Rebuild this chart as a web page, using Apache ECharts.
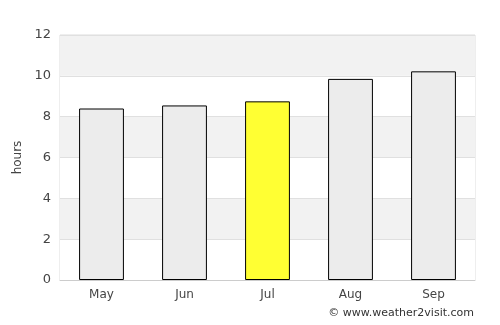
<!DOCTYPE html>
<html>
<head>
<meta charset="utf-8">
<script src="https://cdn.jsdelivr.net/npm/echarts@6/dist/echarts.min.js"></script>
<style>
  html, body { margin: 0; padding: 0; background: #fff; }
  #chart { width: 500px; height: 325px; }
</style>
</head>
<body>
<div id="chart"></div>
<script>
const months = ['May', 'Jun', 'Jul', 'Aug', 'Sep']
const hours = [8.4, 8.55, 8.75, 9.85, 10.22]
const highlight = 'Jul'

const chart = echarts.init(document.getElementById('chart'), null, { renderer: 'canvas' })

chart.setOption({
  animation: false,
  backgroundColor: '#fff',
  textStyle: { fontFamily: 'DejaVu Sans' },
  grid: { left: 60, right: 25, top: 35, bottom: 45, show: true, borderColor: '#dddddd', borderWidth: 1 },
  xAxis: {
    type: 'category',
    data: months,
    axisLine: { lineStyle: { color: '#cccccc' } },
    axisTick: { show: false },
    axisLabel: { color: '#444', fontSize: 12, margin: 9 }
  },
  yAxis: {
    type: 'value',
    min: 0,
    max: 12,
    interval: 2,
    name: 'hours',
    nameLocation: 'middle',
    nameGap: 34,
    nameTextStyle: { color: '#444', fontSize: 12 },
    axisLabel: { color: '#444', fontSize: 13, margin: 9 },
    splitLine: { lineStyle: { color: '#e0e0e0' } },
    splitArea: { show: true, areaStyle: { color: ['#ffffff', '#f2f2f2'] } }
  },
  series: [{
    type: 'bar',
    barWidth: '54%',
    data: months.map((m, i) => ({
      value: hours[i],
      itemStyle: { color: m === highlight ? '#ffff33' : '#ececec' }
    })),
    itemStyle: { borderColor: '#000', borderWidth: 1 }
  }],
  graphic: [{
    type: 'text',
    right: 26,
    top: 308,
    style: { text: '© www.weather2visit.com', fill: '#333', font: '11px DejaVu Sans' }
  }]
})
</script>
</body>
</html>
